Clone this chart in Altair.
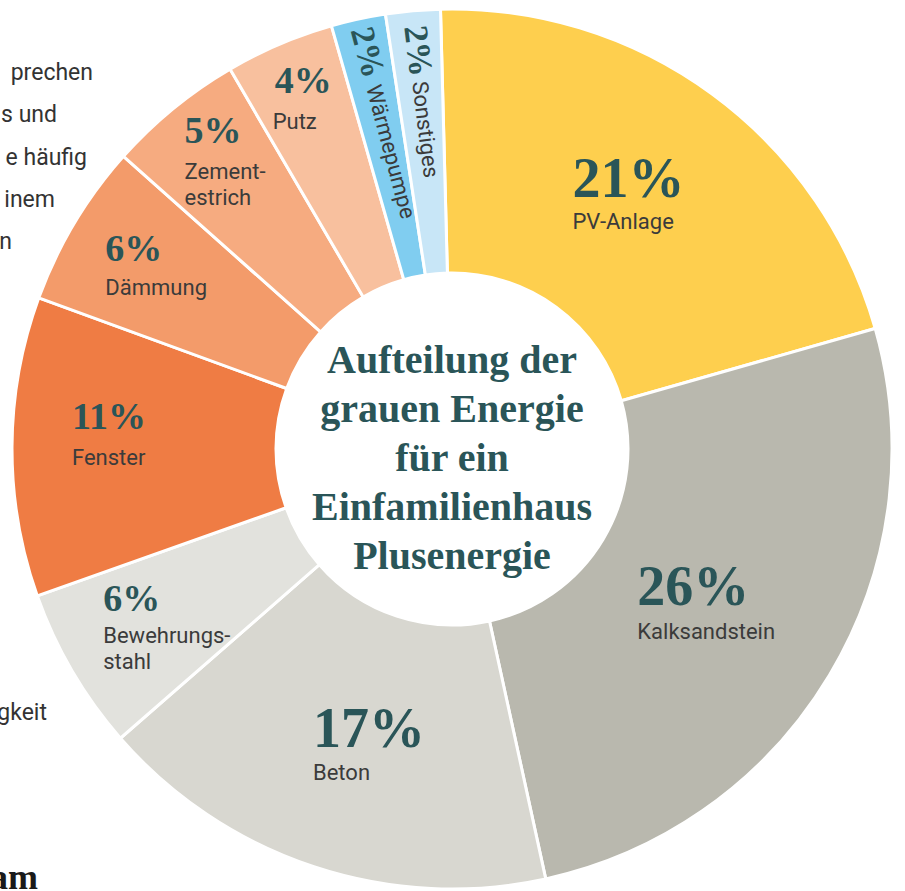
import math
import altair as alt
import pandas as pd

# ---------------- data ----------------
categories = ["PV-Anlage", "Kalksandstein", "Beton", "Bewehrungsstahl", "Fenster",
              "Dämmung", "Zementestrich", "Putz", "Wärmepumpe", "Sonstiges"]
shares = [21, 26, 17, 6, 11, 6, 5, 4, 2, 2]
name_labels = ["PV-Anlage", "Kalksandstein", "Beton", "Bewehrungs-\nstahl", "Fenster",
               "Dämmung", "Zement-\nestrich", "Putz", "Wärmepumpe", "Sonstiges"]
colors = ["#fecf4e", "#b9b8ae", "#d8d7d0", "#e2e2dd", "#ef7c44",
          "#f39b6a", "#f6ab80", "#f8c09e", "#80cdf0", "#c8e6f7"]
title_lines = ["Aufteilung der", "grauen Energie", "für ein", "Einfamilienhaus", "Plusenergie"]
side_lines = ["prechen", "s und", "e häufig", "inem", "n", "gkeit"]
side_bold = "am"

# ---------------- styles ----------------
TEAL = "#2a5558"
GREY = "#3b3b3b"
SERIF = "Liberation Serif"
SANS = "Roboto"
CX, CY = 452, 449
R_OUT, R_IN = 440, 176
OFF = math.radians(-1.5)

df = pd.DataFrame({"cat": categories, "share": shares, "name": name_labels})
df["idx"] = range(len(df))
df["end"] = df["share"].cumsum()
df["start"] = df["end"] - df["share"]
df["mid"] = df["end"] - df["share"] / 2
df["pct"] = df["share"].astype(str) + "%"

theta_scale = alt.Scale(domain=[0, 100], range=[OFF, OFF + 2 * math.pi])

arcs = alt.Chart(df).mark_arc(
    radius=R_OUT, radius2=R_IN, stroke="white", strokeWidth=3
).encode(
    theta=alt.Theta("start:Q", stack=False, scale=theta_scale),
    theta2="end:Q",
    color=alt.Color("cat:N", scale=alt.Scale(domain=categories, range=colors), legend=None),
    x=alt.value(CX), y=alt.value(CY),
)

# label layout: category -> (radius, dx, dy, name_dx, name_dy, pct size, angle, name radius)
layout = {
    "PV-Anlage":       (320, -69, -11, -69, 21, 56, 0, None),
    "Kalksandstein":   (280, -55, -5, -55, 29, 56, 0, None),
    "Beton":           (293, -47, 3, -47, 36, 56, 0, None),
    "Bewehrungsstahl": (353, -44, -27, -44, -1, 38, 0, None),
    "Fenster":         (341, -39, -29, -39, 1, 38, 0, None),
    "Dämmung":         (376, -24, -6, -24, 22, 38, 0, None),
    "Zementestrich":   (397, -16, -10, -16, 20, 38, 0, None),
    "Putz":            (396, -22, -3, -24, 27, 38, 0, None),
    "Wärmepumpe":      (431, 0, 0, 0, 0, 34, 75, 372),
    "Sonstiges":       (425, 0, 0, 0, 0, 34, 83, 369),
}

layers = [arcs]
for cat, (r, dx, dy, ndx, ndy, size, ang, nr) in layout.items():
    base = alt.Chart(df).transform_filter(alt.datum.cat == cat)
    enc = dict(theta=alt.Theta("mid:Q", stack=False, scale=theta_scale),
               x=alt.value(CX), y=alt.value(CY))
    layers.append(base.mark_text(
        radius=r, dx=dx, dy=dy, align="left", baseline="middle", angle=ang,
        font=SERIF, fontWeight="bold", fontSize=size, color=TEAL
    ).encode(text="pct:N", **enc))
    if nr is None:
        layers.append(base.mark_text(
            radius=r, dx=ndx, dy=ndy, align="left", baseline="top",
            font=SANS, fontSize=22, color=GREY, lineBreak="\n", lineHeight=26
        ).encode(text="name:N", **enc))
    else:
        layers.append(base.mark_text(
            radius=nr, align="left", baseline="middle", angle=ang,
            font=SANS, fontSize=22, color=GREY
        ).encode(text="name:N", **enc))

one = alt.Data(values=[{"k": 1}])
title = alt.Chart(one).mark_text(
    text=title_lines, lineHeight=49, font=SERIF, fontWeight="bold", fontSize=40,
    color=TEAL, align="center", baseline="middle"
).encode(x=alt.value(CX), y=alt.value(361))
layers.append(title)

side_x = [93, 57, 87, 55, 12]
for i, (t, xr) in enumerate(zip(side_lines[:5], side_x)):
    layers.append(alt.Chart(one).mark_text(
        text=t, font=SANS, fontSize=23, color="#333333", align="right", baseline="middle"
    ).encode(x=alt.value(xr), y=alt.value(73 + i * 42.3)))
layers.append(alt.Chart(one).mark_text(
    text=side_lines[5], font=SANS, fontSize=23, color="#333333", align="right", baseline="middle"
).encode(x=alt.value(47), y=alt.value(713)))
layers.append(alt.Chart(one).mark_text(
    text=side_bold, font=SERIF, fontWeight="bold", fontSize=36, color="#1a1a1a",
    align="right", baseline="alphabetic"
).encode(x=alt.value(38), y=alt.value(889)))

chart = alt.layer(*layers).properties(
    width=905, height=891, padding=0, background="white",
    autosize=alt.AutoSizeParams(type="none")
).configure_view(stroke=None)

chart.save("out.html", embed_options={"renderer": "svg", "actions": False})
